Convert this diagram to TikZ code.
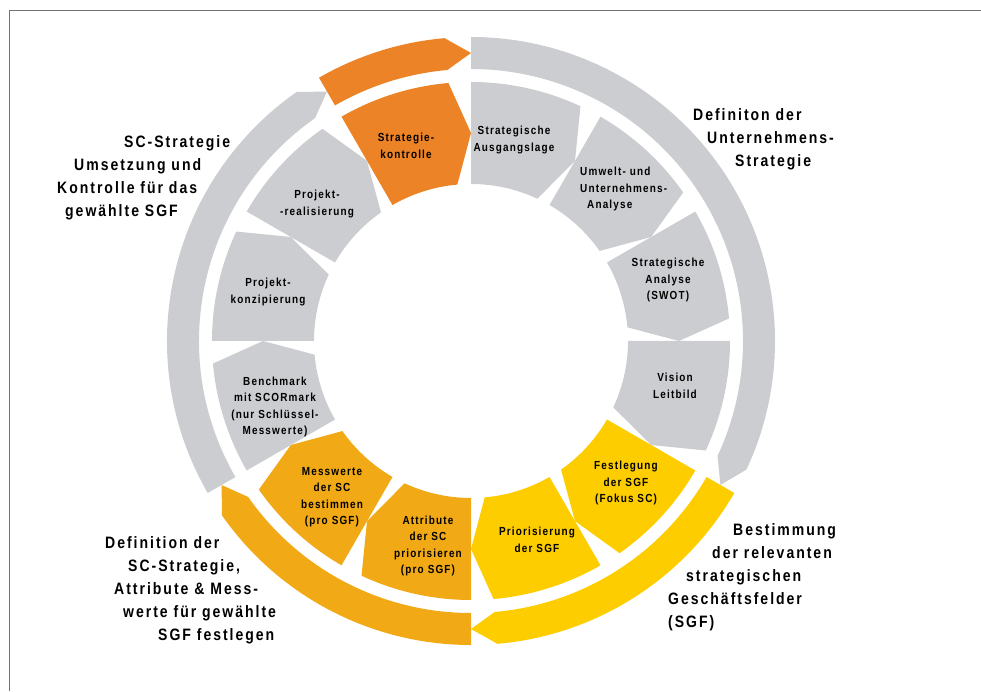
\documentclass[tikz,border=0pt]{standalone}
\usepackage{fontspec}
\newfontfamily\segfont{Liberation Sans}[FakeStretch=0.85,LetterSpace=10]
\newfontfamily\headfont{Liberation Sans}[FakeStretch=0.85,LetterSpace=12]
\definecolor{ringgray}{RGB}{204,205,209}
\definecolor{ctrlorange}{RGB}{236,131,38}
\definecolor{scamber}{RGB}{241,169,21}
\definecolor{sgfyellow}{RGB}{253,205,0}

\begin{document}
\begin{tikzpicture}[x=1pt,y=1pt]
    \tikzstyle{seglabel}=[font=\segfont\bfseries\fontsize{11.7}{16.5}\selectfont,align=center,inner sep=0pt]
    \tikzstyle{headlabel}=[font=\headfont\bfseries\fontsize{16.5}{23}\selectfont,align=left,inner sep=0pt,anchor=west]
    \useasboundingbox (0,0) rectangle (981,691);
    \draw[black!55,line width=0.8pt] (9,0) |- (981,681);
    \coordinate (C) at (471,350);

    \begin{scope}[shift={(C)}]
        % inner segments, tip points clockwise
        \foreach \a/\col in {120/ctrlorange, 90/ringgray, 60/ringgray, 30/ringgray, 0/ringgray,
                -30/sgfyellow, -60/sgfyellow, -90/scamber, -120/scamber, -150/ringgray,
                -180/ringgray, -210/ringgray}
            \fill[\col] (\a:157pt) -- (\a:259pt) arc[start angle=\a, end angle={\a-25}, radius=259pt]
                -- ({\a-30}:208pt) -- ({\a-25}:157pt) arc[start angle={\a-25}, end angle=\a, radius=157pt] -- cycle;

        % outer ring
        \foreach \a/\e/\col in {120/90/ctrlorange, 90/-30/ringgray, -30/-90/sgfyellow,
                -90/-150/scamber, -150/-240/ringgray}
            \fill[\col] (\a:272pt) -- (\a:304pt) arc[start angle=\a, end angle={\e+5}, radius=304pt]
                -- ({\e}:288pt) -- ({\e+5}:272pt) arc[start angle={\e+5}, end angle=\a, radius=272pt] -- cycle;
    \end{scope}

    \node[seglabel] (L-kontrolle) at (406,545) {Strategie-\\kontrolle};
    \node[seglabel] (L-ausgang) at (514,551) {Strategische\\Ausgangslage};
    \node[seglabel,align=left,anchor=west] (L-umwelt) at (580,502) {Umwelt- und\\Unternehmens-\\\hspace*{7pt}Analyse};
    \node[seglabel] (L-swot) at (668,411) {Strategische\\Analyse\\(SWOT)};
    \node[seglabel] (L-vision) at (675,305) {Vision\\Leitbild};
    \node[seglabel] (L-festlegung) at (626,208) {Festlegung\\der SGF\\(Fokus SC)};
    \node[seglabel] (L-prior) at (537,151) {Priorisierung\\der SGF};
    \node[seglabel] (L-attribute) at (428,145) {Attribute\\der SC\\priorisieren\\(pro SGF)};
    \node[seglabel] (L-messwerte) at (332,194) {Messwerte\\der SC\\bestimmen\\(pro SGF)};
    \node[seglabel] (L-benchmark) at (275,284) {Benchmark\\mit SCORmark\\(nur Schlüssel-\\Messwerte)};
    \node[seglabel] (L-konzept) at (268,399) {Projekt-\\konzipierung};
    \node[seglabel] (L-realis) at (317,487) {Projekt-\\-realisierung};

    \node[headlabel] (H-strategie) at (693,552) {Definiton der\\\hspace*{14pt}Unternehmens-\\\hspace*{42pt}Strategie};
    \node[headlabel] (H-umsetzung) at (57,513) {\hspace*{67pt}SC-Strategie\\\hspace*{17pt}Umsetzung und\\Kontrolle für das\\\hspace*{8pt}gewählte SGF};
    \node[headlabel] (H-sgf) at (668,114) {\hspace*{65pt}Bestimmung\\\hspace*{44pt}der relevanten\\\hspace*{18pt}strategischen\\Geschäftsfelder\\(SGF)};
    \node[headlabel] (H-definition) at (105,101) {Definition der\\\hspace*{23pt}SC-Strategie,\\\hspace*{9pt}Attribute \& Mess-\\\hspace*{18pt}werte für gewählte\\\hspace*{53pt}SGF festlegen};
\end{tikzpicture}
\end{document}
